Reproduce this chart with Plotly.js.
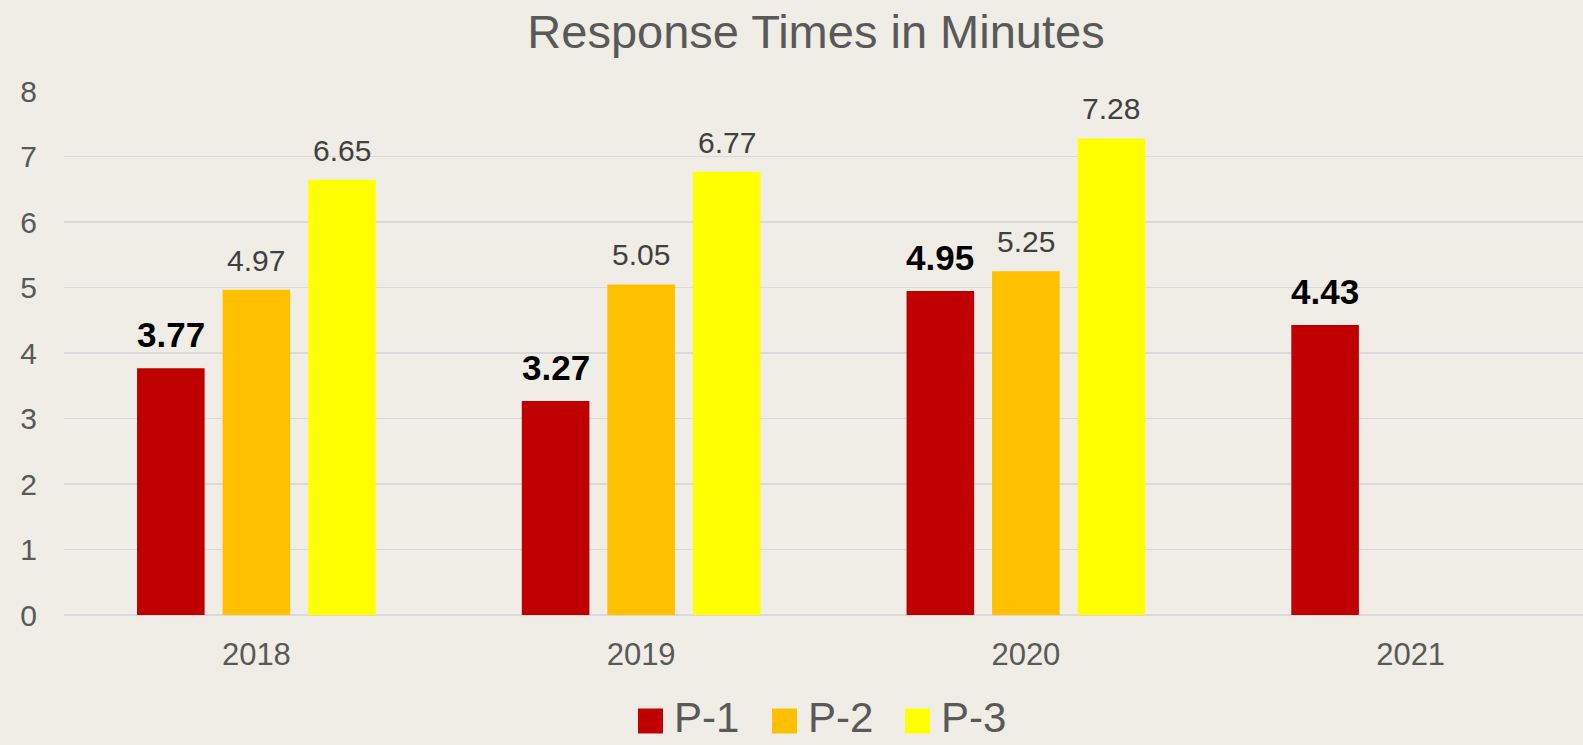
<!DOCTYPE html>
<html>
<head>
<meta charset="utf-8">
<script src="https://cdn.plot.ly/plotly-3.0.1.min.js"></script>
<style>
  html, body { margin: 0; padding: 0; background: #EFEDE5; }
  #chart { width: 1583px; height: 745px; }
</style>
</head>
<body>
<div id="chart"></div>
<script>
// ---- data ----
const years = ["2018", "2019", "2020", "2021"];
const seriesNames = ["P-1", "P-2", "P-3"];
const p1 = [3.77, 3.27, 4.95, 4.43];
const p2 = [4.97, 5.05, 5.25, null];
const p3 = [6.65, 6.77, 7.28, null];
const yTicks = [0, 1, 2, 3, 4, 5, 6, 7, 8];

// ---- styles ----
const FONT = "Liberation Sans, Arial, sans-serif";
const colors = ["#C00000", "#FFC000", "#FFFF00"];
const labelStyles = [
  { size: 35, color: "#000000", bold: true },
  { size: 30, color: "#404040", bold: false },
  { size: 30, color: "#404040", bold: false }
];
const slotShift = [-85.5, 0, 85.5];
const labelYShift = [12, 11, 11];

const allSeries = [p1, p2, p3];

const traces = allSeries.map((vals, i) => ({
  type: "bar",
  name: seriesNames[i],
  x: years,
  y: vals,
  marker: { color: colors[i] },
  showlegend: false,
  hoverinfo: "x+y+name"
}));

const annotations = [];
allSeries.forEach((vals, i) => {
  vals.forEach((v, j) => {
    if (v === null) return;
    const st = labelStyles[i];
    const txt = v.toFixed(2);
    annotations.push({
      x: j, y: v, xref: "x", yref: "y",   // category index j -> years[j]
      text: st.bold ? "<b>" + txt + "</b>" : txt,
      showarrow: false,
      xanchor: "center", yanchor: "bottom",
      xshift: slotShift[i], yshift: labelYShift[i],
      font: { family: FONT, size: st.size, color: st.color }
    });
  });
});

// custom legend (swatches + text)
const L = 64, R = 0, T = 91, B = 130, W = 1583, H = 745;
const pw = W - L - R, ph = H - T - B;
const px = v => (v - L) / pw;
const py = v => (H - B - v) / ph;
const legendX = [638, 772, 905];
const swatchY = 721;
const legendTextY = 717;
const shapes = [];
seriesNames.forEach((n, i) => {
  shapes.push({
    type: "rect", xref: "paper", yref: "paper",
    x0: px(legendX[i]), x1: px(legendX[i] + 25),
    y0: py(swatchY - 12.5), y1: py(swatchY + 12.5),
    fillcolor: colors[i], line: { width: 0 }
  });
  annotations.push({
    xref: "paper", yref: "paper",
    x: px(legendX[i] + 35), y: py(legendTextY),
    xanchor: "left", yanchor: "middle",
    text: n, showarrow: false, borderpad: 0,
    font: { family: FONT, size: 42, color: "#595959" }
  });
});

const layout = {
  width: W, height: H,
  paper_bgcolor: "#EFEDE5",
  plot_bgcolor: "#EFEDE5",
  margin: { l: L, r: R, t: T, b: B, pad: 0 },
  title: {
    text: "Response Times in Minutes",
    font: { family: FONT, size: 47, color: "#595959" },
    x: px(816), xref: "paper", xanchor: "center",
    y: 0.958, yanchor: "middle"
  },
  barmode: "group",
  bargap: 0.333,
  bargroupgap: 0.21,
  xaxis: {
    type: "category",
    range: [-0.5, 3.448],
    showgrid: false,
    showline: false,
    zeroline: false,
    ticks: "",
    ticklabelstandoff: 18,
    tickfont: { family: FONT, size: 31, color: "#595959" }
  },
  yaxis: {
    range: [0, 8.004],
    tickvals: yTicks,
    ticktext: yTicks.map(String),
    showgrid: true,
    gridcolor: "#D9D9D9",
    gridwidth: 1.5,
    zeroline: true,
    zerolinecolor: "#D9D9D9",
    zerolinewidth: 1.5,
    showline: false,
    ticks: "",
    ticklabelstandoff: 26,
    tickfont: { family: FONT, size: 30, color: "#595959" }
  },
  annotations: annotations,
  shapes: shapes,
  showlegend: false
};

Plotly.newPlot("chart", traces, layout, { displayModeBar: false, staticPlot: true });
</script>
</body>
</html>
